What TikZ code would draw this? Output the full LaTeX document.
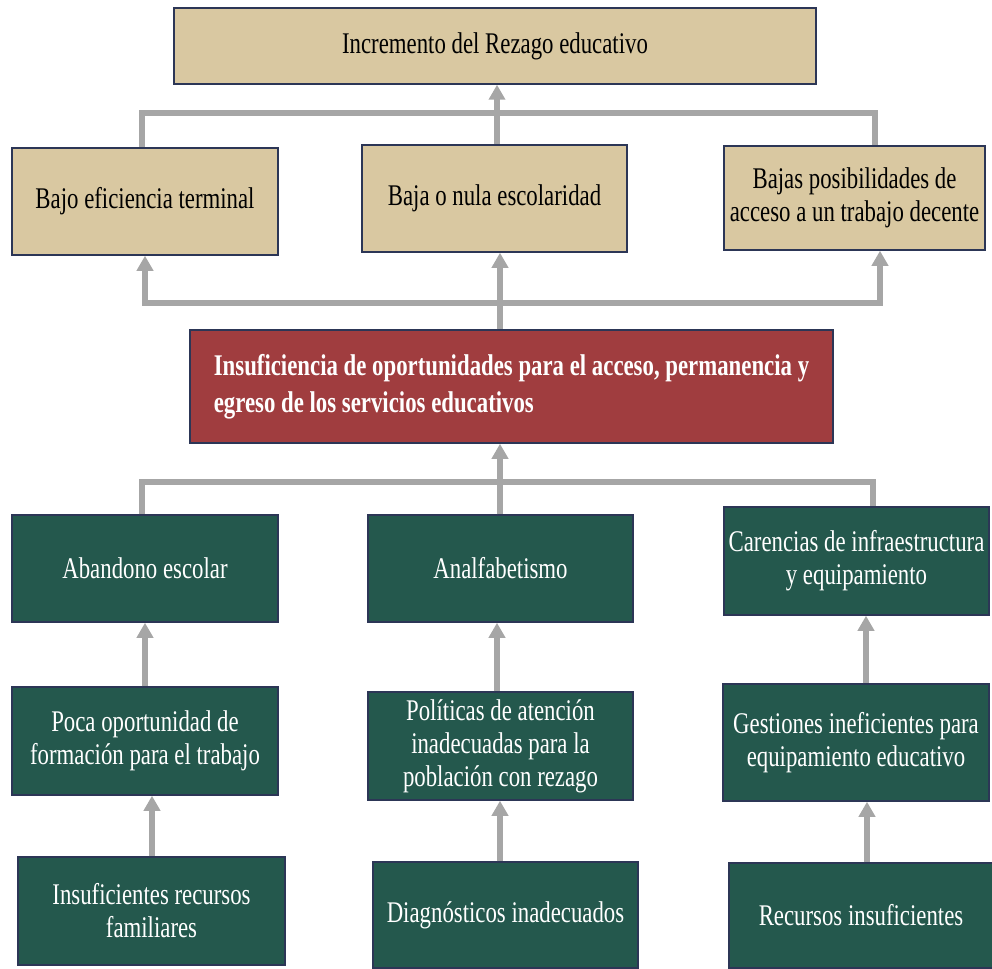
\documentclass[tikz,border=0pt]{standalone}
\usepackage{fontspec}
\setmainfont{Liberation Serif}[FakeStretch=0.76]
\usetikzlibrary{arrows.meta}
\definecolor{tanfill}{RGB}{217,200,161}
\definecolor{redfill}{RGB}{160,61,63}
\definecolor{greenfill}{RGB}{36,88,77}
\definecolor{boxline}{RGB}{44,54,86}
\definecolor{arrgrey}{RGB}{166,166,166}
\begin{document}
\begin{tikzpicture}[x=1pt,y=-1pt,
  box/.style={draw=boxline,line width=1.5pt,inner sep=0pt,align=center,
    font=\fontsize{30}{33}\selectfont},
  tanbox/.style={box,fill=tanfill,text=black},
  redbox/.style={box,fill=redfill,text=white,align=left,
    font=\fontsize{30}{37}\selectfont\bfseries},
  greenbox/.style={box,fill=greenfill,text=white},
  link/.style={draw=arrgrey,line width=5.5pt},
  arr/.style={link,-{Triangle[length=15pt,width=16pt]}}]
\useasboundingbox (0,0) rectangle (992,968);
% top level
\node[tanbox,minimum width=642pt,minimum height=76pt] (top) at (495,46) {Incremento del Rezago educativo};
\node[tanbox,minimum width=266pt,minimum height=107pt] (b1) at (145,201.5) {Bajo eficiencia terminal};
\node[tanbox,minimum width=265pt,minimum height=107pt] (b2) at (494.5,198.5) {Baja o nula escolaridad};
\node[tanbox,minimum width=261pt,minimum height=104pt] (b3) at (854.5,198) {Bajas posibilidades de\\acceso a un trabajo decente};
% central problem
\node[redbox,minimum width=643pt,minimum height=113pt] (red) at (511.5,386.5) {Insuficiencia de oportunidades para el acceso, permanencia y\\egreso de los servicios educativos};
% causes
\node[greenbox,minimum width=266pt,minimum height=107pt] (g1) at (145,568.5) {Abandono escolar};
\node[greenbox,minimum width=265pt,minimum height=107pt] (g2) at (500.5,568.5) {Analfabetismo};
\node[greenbox,minimum width=265pt,minimum height=108pt] (g3) at (856.5,561) {Carencias de infraestructura\\y equipamiento};
\node[greenbox,minimum width=266pt,minimum height=108pt] (p1) at (145,741) {Poca oportunidad de\\formación para el trabajo};
\node[greenbox,minimum width=265pt,minimum height=108pt] (p2) at (500.5,746) {Políticas de atención\\inadecuadas para la\\población con rezago};
\node[greenbox,minimum width=266pt,minimum height=117pt] (p3) at (856,742.5) {Gestiones ineficientes para\\equipamiento educativo};
\node[greenbox,minimum width=267pt,minimum height=108pt] (q1) at (151.5,911) {Insuficientes recursos\\familiares};
\node[greenbox,minimum width=265pt,minimum height=106pt] (q2) at (505.5,915) {Diagnósticos inadecuados};
\node[greenbox,minimum width=264pt,minimum height=105pt] (q3) at (861,915.5) {Recursos insuficientes};
% junction coordinates
\coordinate (ja) at (142,113);
\coordinate (jb) at (875,113);
\coordinate (jc) at (497,113);
\coordinate (ka) at (145,303);
\coordinate (kb) at (880,303);
\coordinate (kc) at (500,303);
\coordinate (la) at (142,482);
\coordinate (lb) at (873,482);
\coordinate (lc) at (500,482);
\coordinate (m1) at (145,0);
\coordinate (m2) at (497,0);
\coordinate (m3) at (866,0);
\coordinate (n1) at (152,0);
\coordinate (n2) at (500,0);
\coordinate (n3) at (867,0);
% effects -> top
\draw[link] (ja |- b1.north) -- (ja) -- (jb) -- (jb |- b3.north);
\draw[arr] (jc |- b2.north) -- (jc |- top.south);
% central -> effects
\draw[link] (kc |- red.north) -- (kc);
\draw[arr] (kc) -- (ka) -- (ka |- b1.south);
\draw[arr] (kc) -- (kb) -- (kb |- b3.south);
\draw[arr] (kc) -- (kc |- b2.south);
% causes -> central
\draw[link] (la |- g1.north) -- (la) -- (lb) -- (lb |- g3.north);
\draw[arr] (lc |- g2.north) -- (lc |- red.south);
% chains
\draw[arr] (m1 |- p1.north) -- (m1 |- g1.south);
\draw[arr] (m2 |- p2.north) -- (m2 |- g2.south);
\draw[arr] (m3 |- p3.north) -- (m3 |- g3.south);
\draw[arr] (n1 |- q1.north) -- (n1 |- p1.south);
\draw[arr] (n2 |- q2.north) -- (n2 |- p2.south);
\draw[arr] (n3 |- q3.north) -- (n3 |- p3.south);
\end{tikzpicture}
\end{document}
